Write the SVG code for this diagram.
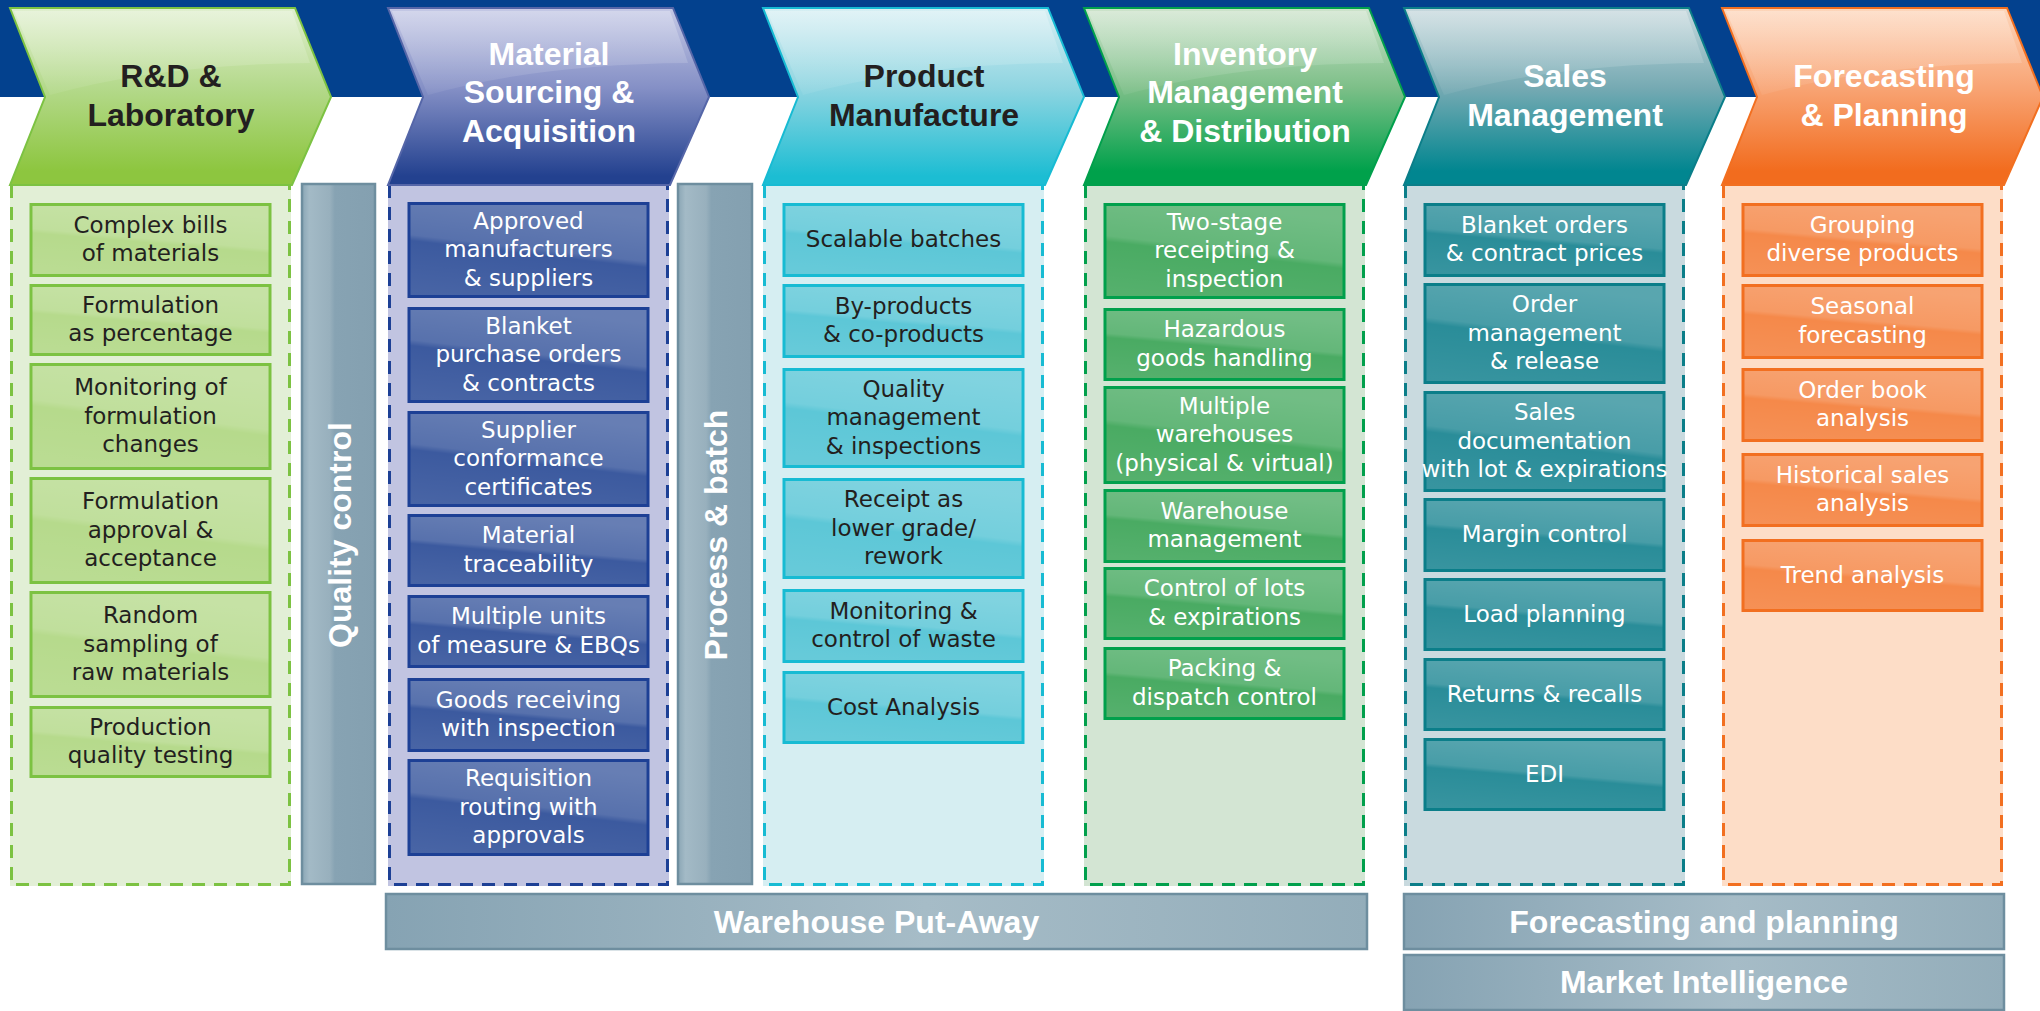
<svg xmlns="http://www.w3.org/2000/svg" width="2040" height="1011" viewBox="0 0 2040 1011">
<defs>
<style>
.hdr{font-family:"Liberation Sans",Arial,sans-serif;font-weight:bold;font-size:32px;text-anchor:middle}
.itm{font-family:"DejaVu Sans","Liberation Sans",sans-serif;font-size:23px;text-anchor:middle}
.dk{fill:#231f20}
.wt{fill:#ffffff}
.gloss{fill:url(#gloss)}
.cgloss{fill:url(#cgloss)}
.dash{fill:none;stroke-width:3;stroke-dasharray:13 9}
.it{stroke-width:3}
.bar{stroke:#6e8e9f;stroke-width:2.5}
.rd-p{fill:#e2efd6}.rd-d{stroke:#7cc242}.rd-i{fill:#b6da8c;stroke:#7cc242}.rd-c{fill:url(#g-rd);stroke:#7cc242;stroke-width:2}
.ma-p{fill:#c1c4e1}.ma-d{stroke:#1d4095}.ma-i{fill:#3c5a9f;stroke:#1d4095}.ma-c{fill:url(#g-ma);stroke:#5566a8;stroke-width:2}
.pr-p{fill:#d6eef2}.pr-d{stroke:#17bbd3}.pr-i{fill:#5dc7d7;stroke:#17bbd3}.pr-c{fill:url(#g-pr);stroke:#17bbd3;stroke-width:2}
.in-p{fill:#d3e5d3}.in-d{stroke:#01a04c}.in-i{fill:#4aab63;stroke:#01a04c}.in-c{fill:url(#g-in);stroke:#01a04c;stroke-width:2}
.sa-p{fill:#c9dadf}.sa-d{stroke:#0b7e89}.sa-i{fill:#2a8d99;stroke:#0b7e89}.sa-c{fill:url(#g-sa);stroke:#0b7e89;stroke-width:2}
.fo-p{fill:#fdddc7}.fo-d{stroke:#f26f20}.fo-i{fill:#f5894a;stroke:#f26f20}.fo-c{fill:url(#g-fo);stroke:#f26f20;stroke-width:2}
</style>
<linearGradient id="gloss" x1="0.2" y1="1" x2="0.5" y2="0">
<stop offset="0" stop-color="#fff" stop-opacity="0.06"/>
<stop offset="0.5" stop-color="#fff" stop-opacity="0"/>
<stop offset="0.56" stop-color="#fff" stop-opacity="0.14"/>
<stop offset="1" stop-color="#fff" stop-opacity="0.22"/>
</linearGradient>
<linearGradient id="cgloss" x1="0" y1="0" x2="0" y2="1">
<stop offset="0" stop-color="#fff" stop-opacity="0.28"/>
<stop offset="1" stop-color="#fff" stop-opacity="0.06"/>
</linearGradient>
<linearGradient id="g-rd" x1="0" y1="0" x2="0" y2="1"><stop offset="0" stop-color="#e0efcf"/><stop offset="0.45" stop-color="#b4d98b"/><stop offset="0.92" stop-color="#8dc63f"/></linearGradient>
<linearGradient id="g-ma" x1="0" y1="0" x2="0" y2="1"><stop offset="0" stop-color="#c4c8e5"/><stop offset="0.45" stop-color="#8590c6"/><stop offset="0.95" stop-color="#23418f"/></linearGradient>
<linearGradient id="g-pr" x1="0" y1="0" x2="0" y2="1"><stop offset="0" stop-color="#d7eff3"/><stop offset="0.45" stop-color="#8fd5e1"/><stop offset="0.95" stop-color="#1cbdd3"/></linearGradient>
<linearGradient id="g-in" x1="0" y1="0" x2="0" y2="1"><stop offset="0" stop-color="#cde3cb"/><stop offset="0.45" stop-color="#7dbf88"/><stop offset="0.92" stop-color="#00a14b"/></linearGradient>
<linearGradient id="g-sa" x1="0" y1="0" x2="0" y2="1"><stop offset="0" stop-color="#c6d8dd"/><stop offset="0.45" stop-color="#76aab3"/><stop offset="0.92" stop-color="#018690"/></linearGradient>
<linearGradient id="g-fo" x1="0" y1="0" x2="0" y2="1"><stop offset="0" stop-color="#fdd6bb"/><stop offset="0.45" stop-color="#f8a474"/><stop offset="0.92" stop-color="#f26c1e"/></linearGradient>
<linearGradient id="g-vbar" x1="0" y1="0" x2="1" y2="0"><stop offset="0" stop-color="#8aa6b5"/><stop offset="0.1" stop-color="#a3bac6"/><stop offset="0.38" stop-color="#98b0bd"/><stop offset="0.45" stop-color="#87a3b3"/><stop offset="1" stop-color="#84a0b0"/></linearGradient>
<linearGradient id="g-hbar" x1="0" y1="0" x2="1" y2="0"><stop offset="0" stop-color="#86a3b3"/><stop offset="0.55" stop-color="#a6bcc7"/><stop offset="1" stop-color="#93adba"/></linearGradient>
</defs>

<rect x="0" y="0" width="2040" height="97" fill="#03418e"/>

<!-- R&D & Laboratory -->
<g id="rd">
<rect class="rd-p" x="10" y="185" width="281" height="701"/>
<path class="dash rd-d" d="M11.5,185 V884.5 H289.5 V185"/>
<polygon class="rd-c" points="10,8 295,8 331,97 292,185 10,185 45,97"/>
<path class="cgloss" d="M14,11 H292 L310,63 Q160,64 50,95 Z"/>
<text class="hdr dk" x="171"><tspan x="171" y="87">R&amp;D &amp;</tspan><tspan x="171" y="126">Laboratory</tspan></text>
</g>
<g id="rd-1"><rect class="it rd-i" x="31" y="204.5" width="239" height="71"/><rect class="gloss" x="32.5" y="206" width="236" height="68"/><text class="itm dk"><tspan x="150.5" y="232.75">Complex bills</tspan><tspan x="150.5" y="261.25">of materials</tspan></text></g>
<g id="rd-2"><rect class="it rd-i" x="31" y="285.5" width="239" height="69"/><rect class="gloss" x="32.5" y="287" width="236" height="66"/><text class="itm dk"><tspan x="150.5" y="312.75">Formulation</tspan><tspan x="150.5" y="341.25">as percentage</tspan></text></g>
<g id="rd-3"><rect class="it rd-i" x="31" y="364.5" width="239" height="104"/><rect class="gloss" x="32.5" y="366" width="236" height="101"/><text class="itm dk"><tspan x="150.5" y="395">Monitoring of</tspan><tspan x="150.5" y="423.5">formulation</tspan><tspan x="150.5" y="452">changes</tspan></text></g>
<g id="rd-4"><rect class="it rd-i" x="31" y="478.5" width="239" height="104"/><rect class="gloss" x="32.5" y="480" width="236" height="101"/><text class="itm dk"><tspan x="150.5" y="509">Formulation</tspan><tspan x="150.5" y="537.5">approval &amp;</tspan><tspan x="150.5" y="566">acceptance</tspan></text></g>
<g id="rd-5"><rect class="it rd-i" x="31" y="592.5" width="239" height="104"/><rect class="gloss" x="32.5" y="594" width="236" height="101"/><text class="itm dk"><tspan x="150.5" y="623">Random</tspan><tspan x="150.5" y="651.5">sampling of</tspan><tspan x="150.5" y="680">raw materials</tspan></text></g>
<g id="rd-6"><rect class="it rd-i" x="31" y="707.5" width="239" height="69"/><rect class="gloss" x="32.5" y="709" width="236" height="66"/><text class="itm dk"><tspan x="150.5" y="734.75">Production</tspan><tspan x="150.5" y="763.25">quality testing</tspan></text></g>

<!-- Quality control bar -->
<g id="quality">
<rect class="bar" x="302" y="184" width="73" height="700" fill="url(#g-vbar)"/>
<text class="hdr wt" transform="translate(351,535) rotate(-90)" x="0" y="0">Quality control</text>
</g>

<!-- Material Sourcing -->
<g id="mat">
<rect class="ma-p" x="388" y="185" width="281" height="701"/>
<path class="dash ma-d" d="M389.5,185 V884.5 H667.5 V185"/>
<polygon class="ma-c" points="388,8 673,8 709,97 670,185 388,185 423,97"/>
<path class="cgloss" d="M392,11 H670 L688,63 Q538,64 428,95 Z"/>
<text class="hdr wt"><tspan x="549" y="64.5">Material</tspan><tspan x="549" y="103">Sourcing &amp;</tspan><tspan x="549" y="141.5">Acquisition</tspan></text>
</g>
<g id="mat-1"><rect class="it ma-i" x="409" y="203.5" width="239" height="93"/><rect class="gloss" x="410.5" y="205" width="236" height="90"/><text class="itm wt"><tspan x="528.5" y="228.5">Approved</tspan><tspan x="528.5" y="257">manufacturers</tspan><tspan x="528.5" y="285.5">&amp; suppliers</tspan></text></g>
<g id="mat-2"><rect class="it ma-i" x="409" y="308.5" width="239" height="93"/><rect class="gloss" x="410.5" y="310" width="236" height="90"/><text class="itm wt"><tspan x="528.5" y="333.5">Blanket</tspan><tspan x="528.5" y="362">purchase orders</tspan><tspan x="528.5" y="390.5">&amp; contracts</tspan></text></g>
<g id="mat-3"><rect class="it ma-i" x="409" y="412.5" width="239" height="93"/><rect class="gloss" x="410.5" y="414" width="236" height="90"/><text class="itm wt"><tspan x="528.5" y="437.5">Supplier</tspan><tspan x="528.5" y="466">conformance</tspan><tspan x="528.5" y="494.5">certificates</tspan></text></g>
<g id="mat-4"><rect class="it ma-i" x="409" y="515.5" width="239" height="70"/><rect class="gloss" x="410.5" y="517" width="236" height="67"/><text class="itm wt"><tspan x="528.5" y="543.25">Material</tspan><tspan x="528.5" y="571.75">traceability</tspan></text></g>
<g id="mat-5"><rect class="it ma-i" x="409" y="596.5" width="239" height="70"/><rect class="gloss" x="410.5" y="598" width="236" height="67"/><text class="itm wt"><tspan x="528.5" y="624.25">Multiple units</tspan><tspan x="528.5" y="652.75">of measure &amp; EBQs</tspan></text></g>
<g id="mat-6"><rect class="it ma-i" x="409" y="679.5" width="239" height="71"/><rect class="gloss" x="410.5" y="681" width="236" height="68"/><text class="itm wt"><tspan x="528.5" y="707.75">Goods receiving</tspan><tspan x="528.5" y="736.25">with inspection</tspan></text></g>
<g id="mat-7"><rect class="it ma-i" x="409" y="760.5" width="239" height="94"/><rect class="gloss" x="410.5" y="762" width="236" height="91"/><text class="itm wt"><tspan x="528.5" y="786">Requisition</tspan><tspan x="528.5" y="814.5">routing with</tspan><tspan x="528.5" y="843">approvals</tspan></text></g>

<!-- Process & batch bar -->
<g id="process">
<rect class="bar" x="678" y="184" width="74" height="700" fill="url(#g-vbar)"/>
<text class="hdr wt" transform="translate(727,535) rotate(-90)" x="0" y="0">Process &amp; batch</text>
</g>

<!-- Product Manufacture -->
<g id="prod">
<rect class="pr-p" x="763" y="185" width="281" height="701"/>
<path class="dash pr-d" d="M764.5,185 V884.5 H1042.5 V185"/>
<polygon class="pr-c" points="763,8 1048,8 1084,97 1045,185 763,185 798,97"/>
<path class="cgloss" d="M767,11 H1045 L1063,63 Q913,64 803,95 Z"/>
<text class="hdr dk"><tspan x="924" y="87">Product</tspan><tspan x="924" y="126">Manufacture</tspan></text>
</g>
<g id="prod-1"><rect class="it pr-i" x="784" y="204.5" width="239" height="71"/><rect class="gloss" x="785.5" y="206" width="236" height="68"/><text class="itm dk"><tspan x="903.5" y="247">Scalable batches</tspan></text></g>
<g id="prod-2"><rect class="it pr-i" x="784" y="285.5" width="239" height="71"/><rect class="gloss" x="785.5" y="287" width="236" height="68"/><text class="itm dk"><tspan x="903.5" y="313.75">By-products</tspan><tspan x="903.5" y="342.25">&amp; co-products</tspan></text></g>
<g id="prod-3"><rect class="it pr-i" x="784" y="369.5" width="239" height="97"/><rect class="gloss" x="785.5" y="371" width="236" height="94"/><text class="itm dk"><tspan x="903.5" y="396.5">Quality</tspan><tspan x="903.5" y="425">management</tspan><tspan x="903.5" y="453.5">&amp; inspections</tspan></text></g>
<g id="prod-4"><rect class="it pr-i" x="784" y="479.5" width="239" height="98"/><rect class="gloss" x="785.5" y="481" width="236" height="95"/><text class="itm dk"><tspan x="903.5" y="507">Receipt as</tspan><tspan x="903.5" y="535.5">lower grade/</tspan><tspan x="903.5" y="564">rework</tspan></text></g>
<g id="prod-5"><rect class="it pr-i" x="784" y="590.5" width="239" height="71"/><rect class="gloss" x="785.5" y="592" width="236" height="68"/><text class="itm dk"><tspan x="903.5" y="618.75">Monitoring &amp;</tspan><tspan x="903.5" y="647.25">control of waste</tspan></text></g>
<g id="prod-6"><rect class="it pr-i" x="784" y="672.5" width="239" height="70"/><rect class="gloss" x="785.5" y="674" width="236" height="67"/><text class="itm dk"><tspan x="903.5" y="714.5">Cost Analysis</tspan></text></g>

<!-- Inventory Management -->
<g id="inv">
<rect class="in-p" x="1084" y="185" width="281" height="701"/>
<path class="dash in-d" d="M1085.5,185 V884.5 H1363.5 V185"/>
<polygon class="in-c" points="1084,8 1369,8 1405,97 1366,185 1084,185 1119,97"/>
<path class="cgloss" d="M1088,11 H1366 L1384,63 Q1234,64 1124,95 Z"/>
<text class="hdr wt"><tspan x="1245" y="64.5">Inventory</tspan><tspan x="1245" y="103">Management</tspan><tspan x="1245" y="141.5">&amp; Distribution</tspan></text>
</g>
<g id="inv-1"><rect class="it in-i" x="1105" y="204.5" width="239" height="93"/><rect class="gloss" x="1106.5" y="206" width="236" height="90"/><text class="itm wt"><tspan x="1224.5" y="229.5">Two-stage</tspan><tspan x="1224.5" y="258">receipting &amp;</tspan><tspan x="1224.5" y="286.5">inspection</tspan></text></g>
<g id="inv-2"><rect class="it in-i" x="1105" y="309.5" width="239" height="70"/><rect class="gloss" x="1106.5" y="311" width="236" height="67"/><text class="itm wt"><tspan x="1224.5" y="337.25">Hazardous</tspan><tspan x="1224.5" y="365.75">goods handling</tspan></text></g>
<g id="inv-3"><rect class="it in-i" x="1105" y="387.5" width="239" height="95"/><rect class="gloss" x="1106.5" y="389" width="236" height="92"/><text class="itm wt"><tspan x="1224.5" y="413.5">Multiple</tspan><tspan x="1224.5" y="442">warehouses</tspan><tspan x="1224.5" y="470.5">(physical &amp; virtual)</tspan></text></g>
<g id="inv-4"><rect class="it in-i" x="1105" y="490.5" width="239" height="71"/><rect class="gloss" x="1106.5" y="492" width="236" height="68"/><text class="itm wt"><tspan x="1224.5" y="518.75">Warehouse</tspan><tspan x="1224.5" y="547.25">management</tspan></text></g>
<g id="inv-5"><rect class="it in-i" x="1105" y="568.5" width="239" height="70"/><rect class="gloss" x="1106.5" y="570" width="236" height="67"/><text class="itm wt"><tspan x="1224.5" y="596.25">Control of lots</tspan><tspan x="1224.5" y="624.75">&amp; expirations</tspan></text></g>
<g id="inv-6"><rect class="it in-i" x="1105" y="648.5" width="239" height="70"/><rect class="gloss" x="1106.5" y="650" width="236" height="67"/><text class="itm wt"><tspan x="1224.5" y="676.25">Packing &amp;</tspan><tspan x="1224.5" y="704.75">dispatch control</tspan></text></g>

<!-- Sales Management -->
<g id="sales">
<rect class="sa-p" x="1404" y="185" width="281" height="701"/>
<path class="dash sa-d" d="M1405.5,185 V884.5 H1683.5 V185"/>
<polygon class="sa-c" points="1404,8 1689,8 1725,97 1686,185 1404,185 1439,97"/>
<path class="cgloss" d="M1408,11 H1686 L1704,63 Q1554,64 1444,95 Z"/>
<text class="hdr wt"><tspan x="1565" y="87">Sales</tspan><tspan x="1565" y="126">Management</tspan></text>
</g>
<g id="sales-1"><rect class="it sa-i" x="1425" y="204.5" width="239" height="71"/><rect class="gloss" x="1426.5" y="206" width="236" height="68"/><text class="itm wt"><tspan x="1544.5" y="232.75">Blanket orders</tspan><tspan x="1544.5" y="261.25">&amp; contract prices</tspan></text></g>
<g id="sales-2"><rect class="it sa-i" x="1425" y="284.5" width="239" height="98"/><rect class="gloss" x="1426.5" y="286" width="236" height="95"/><text class="itm wt"><tspan x="1544.5" y="312">Order</tspan><tspan x="1544.5" y="340.5">management</tspan><tspan x="1544.5" y="369">&amp; release</tspan></text></g>
<g id="sales-3"><rect class="it sa-i" x="1425" y="392.5" width="239" height="98"/><rect class="gloss" x="1426.5" y="394" width="236" height="95"/><text class="itm wt"><tspan x="1544.5" y="420">Sales</tspan><tspan x="1544.5" y="448.5">documentation</tspan><tspan x="1544.5" y="477">with lot &amp; expirations</tspan></text></g>
<g id="sales-4"><rect class="it sa-i" x="1425" y="499.5" width="239" height="71"/><rect class="gloss" x="1426.5" y="501" width="236" height="68"/><text class="itm wt"><tspan x="1544.5" y="542">Margin control</tspan></text></g>
<g id="sales-5"><rect class="it sa-i" x="1425" y="579.5" width="239" height="70"/><rect class="gloss" x="1426.5" y="581" width="236" height="67"/><text class="itm wt"><tspan x="1544.5" y="621.5">Load planning</tspan></text></g>
<g id="sales-6"><rect class="it sa-i" x="1425" y="659.5" width="239" height="70"/><rect class="gloss" x="1426.5" y="661" width="236" height="67"/><text class="itm wt"><tspan x="1544.5" y="701.5">Returns &amp; recalls</tspan></text></g>
<g id="sales-7"><rect class="it sa-i" x="1425" y="739.5" width="239" height="70"/><rect class="gloss" x="1426.5" y="741" width="236" height="67"/><text class="itm wt"><tspan x="1544.5" y="781.5">EDI</tspan></text></g>

<!-- Forecasting & Planning -->
<g id="fore">
<rect class="fo-p" x="1722" y="185" width="281" height="701"/>
<path class="dash fo-d" d="M1723.5,185 V884.5 H2001.5 V185"/>
<polygon class="fo-c" points="1722,8 2007,8 2043,97 2004,185 1722,185 1757,97"/>
<path class="cgloss" d="M1726,11 H2004 L2022,63 Q1872,64 1762,95 Z"/>
<text class="hdr wt"><tspan x="1884" y="87">Forecasting</tspan><tspan x="1884" y="126">&amp; Planning</tspan></text>
</g>
<g id="fore-1"><rect class="it fo-i" x="1743" y="204.5" width="239" height="71"/><rect class="gloss" x="1744.5" y="206" width="236" height="68"/><text class="itm wt"><tspan x="1862.5" y="232.75">Grouping</tspan><tspan x="1862.5" y="261.25">diverse products</tspan></text></g>
<g id="fore-2"><rect class="it fo-i" x="1743" y="285.5" width="239" height="72"/><rect class="gloss" x="1744.5" y="287" width="236" height="69"/><text class="itm wt"><tspan x="1862.5" y="314.25">Seasonal</tspan><tspan x="1862.5" y="342.75">forecasting</tspan></text></g>
<g id="fore-3"><rect class="it fo-i" x="1743" y="369.5" width="239" height="71"/><rect class="gloss" x="1744.5" y="371" width="236" height="68"/><text class="itm wt"><tspan x="1862.5" y="397.75">Order book</tspan><tspan x="1862.5" y="426.25">analysis</tspan></text></g>
<g id="fore-4"><rect class="it fo-i" x="1743" y="454.5" width="239" height="71"/><rect class="gloss" x="1744.5" y="456" width="236" height="68"/><text class="itm wt"><tspan x="1862.5" y="482.75">Historical sales</tspan><tspan x="1862.5" y="511.25">analysis</tspan></text></g>
<g id="fore-5"><rect class="it fo-i" x="1743" y="540.5" width="239" height="70"/><rect class="gloss" x="1744.5" y="542" width="236" height="67"/><text class="itm wt"><tspan x="1862.5" y="582.5">Trend analysis</tspan></text></g>

<!-- Bottom bars -->
<g id="warehouse"><rect class="bar" x="386" y="894" width="981" height="55" fill="url(#g-hbar)"/><text class="hdr wt" x="876.5" y="933">Warehouse Put-Away</text></g>
<g id="forecast-bar"><rect class="bar" x="1404" y="894" width="600" height="55" fill="url(#g-hbar)"/><text class="hdr wt" x="1704" y="933">Forecasting and planning</text></g>
<g id="market"><rect class="bar" x="1404" y="955" width="600" height="55" fill="url(#g-hbar)"/><text class="hdr wt" x="1704" y="993">Market Intelligence</text></g>

<g id="connectors"></g>
</svg>
